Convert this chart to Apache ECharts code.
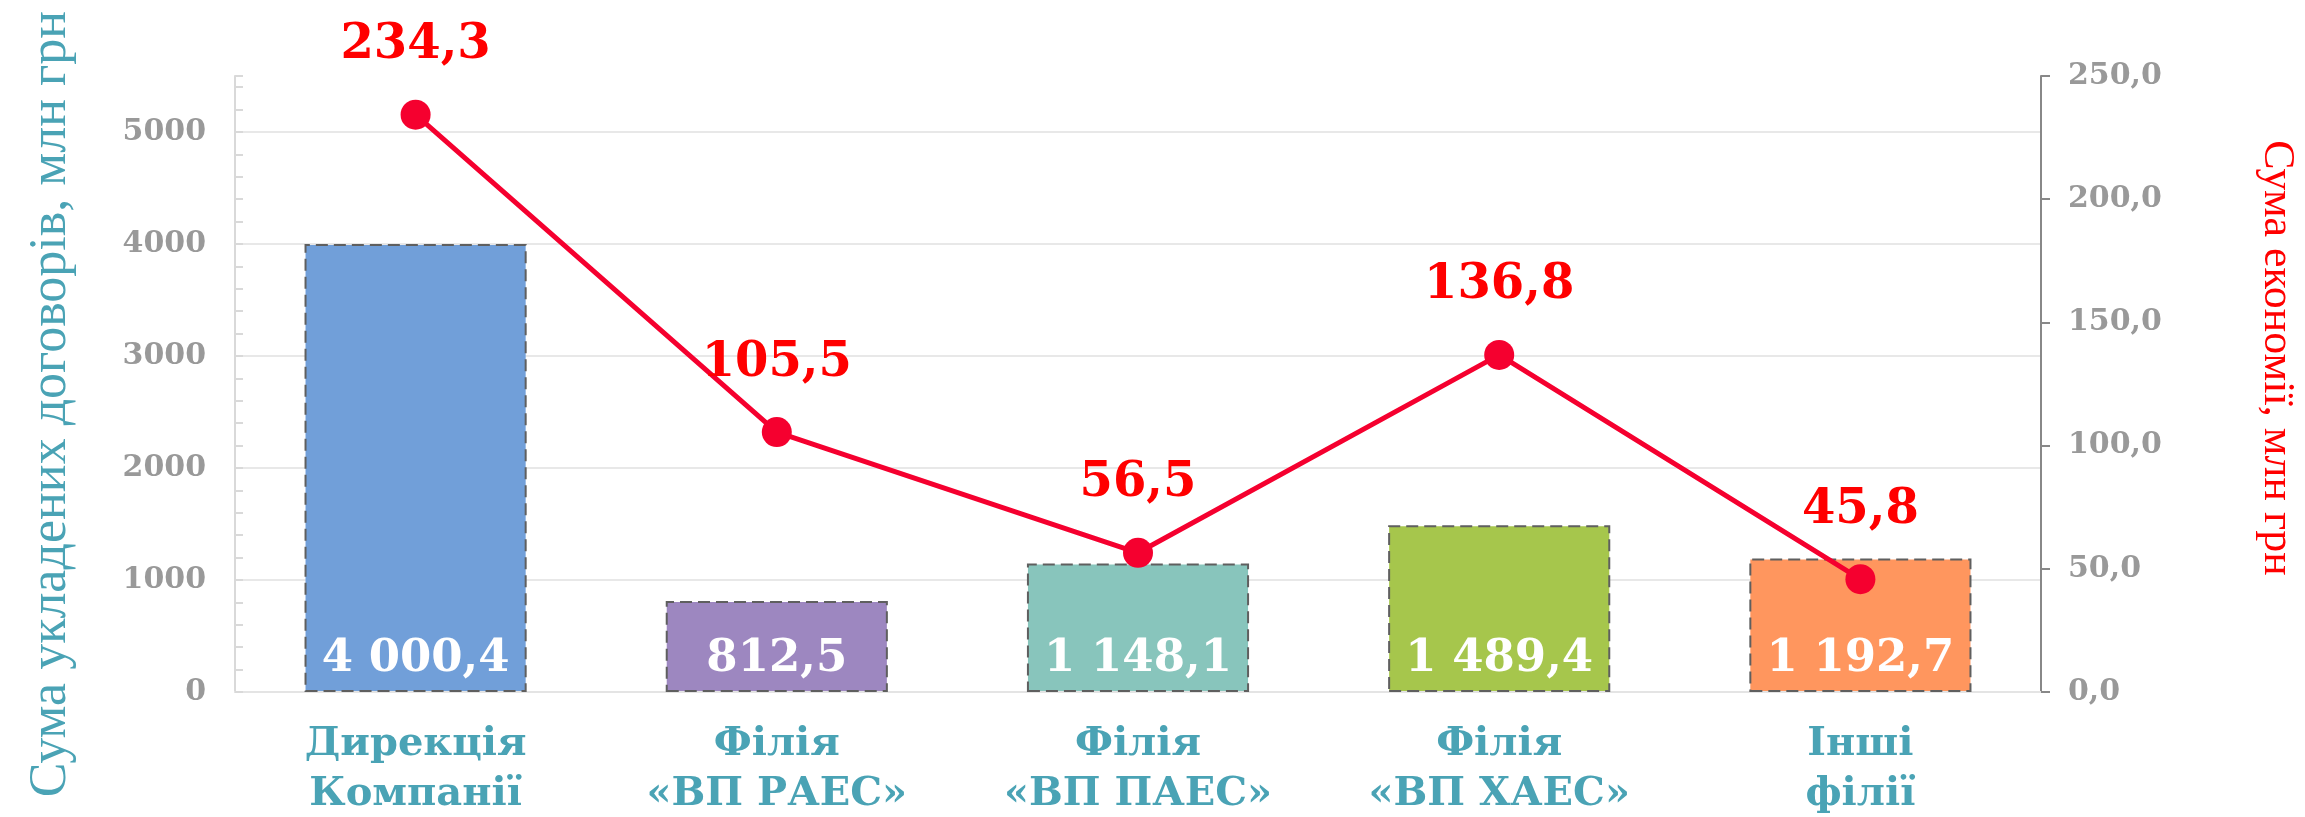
<!DOCTYPE html>
<html>
<head>
<meta charset="utf-8">
<script src="https://cdn.jsdelivr.net/npm/echarts@6/dist/echarts.min.js"></script>
<style>
  html, body { margin: 0; padding: 0; background: #fff; }
  #chart { width: 2305px; height: 817px; }
</style>
</head>
<body>
<div id="chart"></div>
<script>
// категорії та значення
const categories = ['Дирекція\nКомпанії', 'Філія\n«ВП РАЕС»', 'Філія\n«ВП ПАЕС»', 'Філія\n«ВП ХАЕС»', 'Інші\nфілії'];
const contractSums = [4000.4, 812.5, 1148.1, 1489.4, 1192.7];
const savings = [234.3, 105.5, 56.5, 136.8, 45.8];
const leftAxisName = 'Сума укладених договорів, млн грн';
const rightAxisName = 'Сума економії, млн грн';

const barColors = ['#719fd9', '#9d87c0', '#88c5bc', '#a6c64c', '#ff965e'];
const teal = '#4aa3b5';

// 4000.4 -> "4 000,4"
function fmt(v) {
  const parts = v.toFixed(1).split('.');
  return parts[0].replace(/\B(?=(\d{3})+(?!\d))/g, ' ') + ',' + parts[1];
}

const chart = echarts.init(document.getElementById('chart'));
chart.setOption({
  animation: false,
  grid: {
    left: 235,
    right: 264,
    top: 76,
    bottom: 125,
    outerBoundsMode: 'none'
  },
  xAxis: {
    type: 'category',
    data: categories,
    axisLine: { lineStyle: { color: '#e4e4e4', width: 2 } },
    axisTick: { show: false },
    axisLabel: {
      interval: 0,
      margin: 28,
      color: teal,
      fontFamily: 'DejaVu Serif',
      fontWeight: 'bold',
      fontSize: 40,
      lineHeight: 50
    }
  },
  yAxis: [
    {
      type: 'value',
      position: 'left',
      min: 0,
      max: 5500,
      interval: 1000,
      name: leftAxisName,
      nameLocation: 'middle',
      nameRotate: 90,
      nameGap: 158,
      nameTextStyle: {
        color: teal,
        fontFamily: 'Liberation Serif',
        fontSize: 52,
        padding: [0, 40, 0, 0]
      },
      axisLine: { show: true, lineStyle: { color: '#d9d9d9', width: 2 } },
      axisTick: { show: true, inside: true, length: 8, lineStyle: { color: '#d9d9d9', width: 2 } },
      minorTick: { show: true, splitNumber: 5, length: 8, lineStyle: { color: '#d9d9d9', width: 2 } },
      axisLabel: {
        margin: 29,
        showMaxLabel: false,
        color: '#999',
        fontFamily: 'DejaVu Serif',
        fontWeight: 'bold',
        fontSize: 30,
        formatter: v => String(v)
      },
      splitLine: { show: true, showMaxLine: false, lineStyle: { color: '#e8e8e8', width: 2 } }
    },
    {
      type: 'value',
      position: 'right',
      min: 0,
      max: 250,
      interval: 50,
      name: rightAxisName,
      nameLocation: 'middle',
      nameRotate: -90,
      nameGap: 214,
      nameTextStyle: {
        color: '#ff0000',
        fontFamily: 'Liberation Serif',
        fontSize: 44,
        padding: [0, 52, 0, 0]
      },
      axisLine: { show: true, lineStyle: { color: '#888', width: 2 } },
      axisTick: { show: true, length: 9, lineStyle: { color: '#888', width: 2 } },
      axisLabel: {
        margin: 27,
        color: '#999',
        fontFamily: 'DejaVu Serif',
        fontWeight: 'bold',
        fontSize: 30,
        formatter: v => v.toFixed(1).replace('.', ',')
      },
      splitLine: { show: false }
    }
  ],
  series: [
    {
      type: 'bar',
      yAxisIndex: 0,
      data: contractSums,
      barWidth: '61.5%',
      itemStyle: {
        color: p => barColors[p.dataIndex],
        borderColor: '#5f5f5f',
        borderWidth: 2,
        borderType: [12, 6]
      },
      label: {
        show: true,
        position: 'insideBottom',
        distance: 10,
        color: '#fff',
        fontFamily: 'DejaVu Serif',
        fontWeight: 'bold',
        fontSize: 45,
        formatter: p => fmt(p.value)
      }
    },
    {
      type: 'line',
      yAxisIndex: 1,
      data: savings,
      symbol: 'circle',
      symbolSize: 30,
      itemStyle: { color: '#f5002f' },
      lineStyle: { color: '#f5002f', width: 5 },
      label: {
        show: true,
        position: 'top',
        distance: 30,
        color: '#ff0000',
        fontFamily: 'DejaVu Serif',
        fontWeight: 'bold',
        fontSize: 48,
        formatter: p => fmt(p.value)
      }
    }
  ]
});
</script>
</body>
</html>
